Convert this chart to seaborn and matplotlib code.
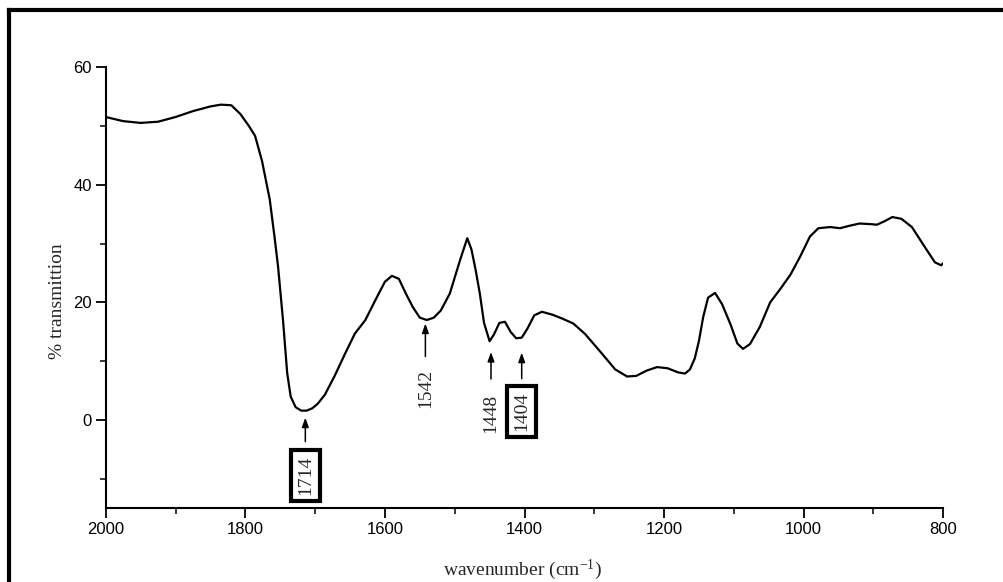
import numpy as np
import pandas as pd
import matplotlib
matplotlib.use("Agg")
import matplotlib.pyplot as plt
import matplotlib.transforms as mtransforms
from matplotlib.lines import Line2D
from matplotlib.ticker import MultipleLocator
import seaborn as sns

# ---------------- data ----------------
wavenumber = [2000, 1975, 1950, 1925, 1900, 1875, 1850, 1835, 1820, 1807, 1795, 1786,
              1776, 1765, 1758, 1753, 1746, 1740, 1735, 1728, 1720, 1712, 1704, 1696,
              1686, 1672, 1657, 1643, 1628, 1614, 1600, 1590, 1580, 1570, 1560, 1550,
              1540, 1530, 1520, 1507, 1492, 1482, 1476, 1470, 1464, 1458, 1450, 1444,
              1436, 1428, 1420, 1412, 1404, 1396, 1386, 1375, 1360, 1345, 1330, 1313,
              1292, 1270, 1253, 1240, 1225, 1210, 1195, 1180, 1170, 1163, 1156, 1150,
              1144, 1137, 1127, 1117, 1105, 1095, 1087, 1077, 1063, 1048, 1034, 1019,
              1005, 991, 979, 962, 948, 935, 920, 905, 895, 884, 873, 860, 845, 827,
              812, 803, 795]
transmission = [51.5, 50.8, 50.5, 50.7, 51.5, 52.5, 53.3, 53.6, 53.5, 52.0, 50.0, 48.3,
                44.0, 37.5, 31.0, 26.0, 17.0, 8.0, 4.0, 2.2, 1.6, 1.6, 2.0, 2.8,
                4.3, 7.5, 11.3, 14.7, 17.0, 20.3, 23.5, 24.5, 24.0, 21.5, 19.2, 17.4,
                17.0, 17.4, 18.6, 21.5, 27.3, 30.9, 29.0, 25.5, 21.5, 16.5, 13.4, 14.5,
                16.5, 16.7, 15.0, 13.9, 14.0, 15.5, 17.8, 18.4, 17.9, 17.2, 16.4, 14.6,
                11.7, 8.6, 7.4, 7.5, 8.4, 9.0, 8.8, 8.1, 7.9, 8.6, 10.5, 13.5,
                17.5, 20.8, 21.6, 19.7, 16.3, 13.0, 12.1, 12.9, 15.8, 20.0, 22.2, 24.7,
                27.8, 31.2, 32.6, 32.8, 32.6, 33.0, 33.4, 33.3, 33.2, 33.8, 34.5, 34.2, 32.8, 29.5,
                26.8, 26.3, 27.3]

peak_labels = ["1714", "1542", "1448", "1404"]
peak_boxed = [True, False, False, True]
# layout offsets (pixels below the curve): arrow head, arrow tail, text centre
head_off = [7, 4, 13, 15]
tail_off = [31, 37, 40, 41]
text_off = [65, 69, 74, 74]

x_ticks = [2000, 1800, 1600, 1400, 1200, 1000, 800]
y_ticks = [0, 20, 40, 60]

# ---------------- figure ----------------
sns.set_style("ticks")
plt.rcParams["font.family"] = ["Liberation Sans", "DejaVu Sans"]
plt.rcParams["mathtext.fontset"] = "custom"
plt.rcParams["mathtext.rm"] = "Liberation Serif"
plt.rcParams["mathtext.it"] = "Liberation Serif:italic"
plt.rcParams["mathtext.default"] = "rm"

DPI = 100
fig = plt.figure(figsize=(10.04, 5.82), dpi=DPI)
W, H = 1004, 582
ax = fig.add_axes([105.7 / W, 1 - 508.3 / H, (943.3 - 105.7) / W, (508.3 - 67) / H])

df = pd.DataFrame({"wavenumber": wavenumber, "transmission": transmission})
sns.lineplot(data=df, x="wavenumber", y="transmission", ax=ax, color="black",
             linewidth=1.6, estimator=None, sort=False)

ax.set_xlim(2000, 800)
ax.set_ylim(-15, 60)
ax.set_xticks(x_ticks)
ax.set_yticks(y_ticks)
ax.xaxis.set_minor_locator(MultipleLocator(100))
ax.yaxis.set_minor_locator(MultipleLocator(10))
ax.tick_params(axis="both", which="major", direction="out", length=7, width=1.3,
               labelsize=12, pad=3, colors="black")
ax.tick_params(axis="both", which="minor", direction="out", length=4, width=1.3)
for s in ["top", "right"]:
    ax.spines[s].set_visible(False)
for s in ["left", "bottom"]:
    ax.spines[s].set_linewidth(1.5)
    ax.spines[s].set_color("black")

serif = ["Liberation Serif", "DejaVu Serif"]
ax.set_xlabel("wavenumber (cm$^{\\mathregular{-1}}$)", fontsize=14, family=serif)
ax.set_ylabel("% transmittion", fontsize=14, family=serif)
ax.xaxis.set_label_coords(0.498, -0.112)
ax.yaxis.set_label_coords(-0.047, 0.47)

# ---------------- annotations ----------------
for lab, boxed, ho, to, xo in zip(peak_labels, peak_boxed, head_off, tail_off, text_off):
    pk = float(lab)
    yc = float(np.interp(pk, wavenumber[::-1], transmission[::-1]))
    t_head = mtransforms.offset_copy(ax.transData, fig=fig, y=-ho, units="dots")
    t_tail = mtransforms.offset_copy(ax.transData, fig=fig, y=-to, units="dots")
    t_text = mtransforms.offset_copy(ax.transData, fig=fig, y=-xo, units="dots")
    ax.annotate("", xy=(pk, yc), xycoords=t_head, xytext=(pk, yc), textcoords=t_tail,
                arrowprops=dict(arrowstyle="-|>,head_length=0.55,head_width=0.2",
                                color="black", lw=1.1, shrinkA=0, shrinkB=0),
                annotation_clip=False)
    kw = dict(rotation=90, ha="center", va="center", fontsize=14, family=serif,
              transform=t_text, clip_on=False)
    if boxed:
        kw["bbox"] = dict(boxstyle="square,pad=0.3", fc="white", ec="black", lw=3)
    ax.text(pk, yc, lab, **kw)

# outer frame (left and top edges visible)
fig.add_artist(Line2D([9 / W, 9 / W], [0, 1 - 10 / H], transform=fig.transFigure,
                      color="black", lw=3, solid_capstyle="projecting"))
fig.add_artist(Line2D([9 / W, 1], [1 - 10 / H, 1 - 10 / H], transform=fig.transFigure,
                      color="black", lw=3, solid_capstyle="projecting"))

fig.savefig("out.png", dpi=DPI)
